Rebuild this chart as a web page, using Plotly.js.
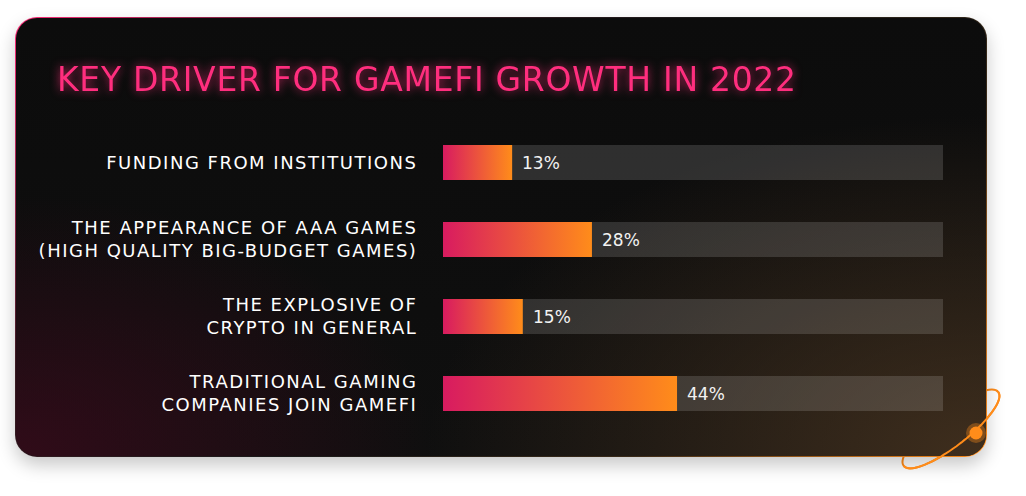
<!DOCTYPE html>
<html>
<head>
<meta charset="utf-8">
<script src="https://cdn.plot.ly/plotly-3.0.1.min.js"></script>
<style>
  html, body { margin: 0; padding: 0; background: #ffffff; }
  #wrap { position: relative; width: 1026px; height: 496px; overflow: hidden; }
  #card {
    position: absolute; left: 15px; top: 17px; width: 970px; height: 438px;
    border-radius: 22px;
    border: 1.5px solid transparent;
    background:
      radial-gradient(ellipse 420px 260px at 0% 100%, rgba(60,10,28,0.75), rgba(60,10,28,0) 100%) padding-box,
      radial-gradient(ellipse 560px 340px at 100% 100%, rgba(72,52,32,0.85), rgba(72,52,32,0) 100%) padding-box,
      linear-gradient(#0c0c0c, #0f0f0f) padding-box,
      linear-gradient(135deg, #ff2d7a 0%, #3a1a22 25%, #1a1a1a 50%, #3a2a18 75%, #ff8c1a 100%) border-box;
    box-shadow: 0 8px 18px rgba(0,0,0,0.22);
  }
  #back, #front { position: absolute; left: 0; top: 0; }
  #chart { position: absolute; left: 0; top: 0; width: 1026px; height: 496px; }
  #chart .gtitle { filter: drop-shadow(0 0 5px rgba(255,45,122,0.75)); letter-spacing: 0.7px; }
  #chart .ytick text { letter-spacing: 1.5px; }
</style>
</head>
<body>
<div id="wrap">
  <svg id="back" width="1026" height="496">
    <ellipse cx="951" cy="429" rx="60" ry="17" transform="rotate(-38 951 429)" fill="none" stroke="#ff8c1a" stroke-width="2"/>
  </svg>
  <div id="card"></div>
  <div id="chart"></div>
  <svg id="front" width="1026" height="496">
    <path id="frontArc" d="" fill="none" stroke="#ff8c1a" stroke-width="2"/>
    <circle cx="976" cy="433" r="10" fill="rgba(255,140,26,0.35)"/>
    <circle cx="976" cy="433" r="6.5" fill="#ff8c1a"/>
  </svg>
</div>
<script>
// ---- data ----
const categories = [
  "FUNDING FROM INSTITUTIONS",
  "THE APPEARANCE OF AAA GAMES<br>(HIGH QUALITY BIG-BUDGET GAMES)",
  "THE EXPLOSIVE OF<br>CRYPTO IN GENERAL",
  "TRADITIONAL GAMING<br>COMPANIES JOIN GAMEFI"
];
const values = [13, 28, 15, 44];
const valueLabels = ["13%", "28%", "15%", "44%"];
const trackMax = 94;
const chartTitle = "KEY DRIVER FOR GAMEFI GROWTH IN 2022";

// ---- build ----
const FONT = '"DejaVu Sans", sans-serif';
const idx = categories.map((_, i) => i);
const barW = 0.455;
const traces = [];
traces.push({
  type: 'bar', orientation: 'h',
  y: idx, x: categories.map(() => trackMax),
  width: barW,
  marker: { color: 'rgba(255,255,255,0.14)', line: { width: 0 } },
  hoverinfo: 'skip', showlegend: false
});
values.forEach((v, i) => {
  traces.push({
    type: 'scatter', mode: 'lines',
    x: [0, v, v, 0, 0],
    y: [i - barW / 2, i - barW / 2, i + barW / 2, i + barW / 2, i - barW / 2],
    fill: 'toself',
    line: { width: 0, color: 'rgba(0,0,0,0)' },
    fillcolor: '#ee5a3a',
    fillgradient: { type: 'horizontal', colorscale: [[0, '#d81b60'], [1, '#ff8c1a']] },
    hoverinfo: 'skip', showlegend: false
  });
});

const annotations = values.map((v, i) => ({
  x: v, y: i, xref: 'x', yref: 'y',
  text: valueLabels[i], showarrow: false,
  xanchor: 'left', yanchor: 'middle', xshift: 8,
  font: { family: FONT, size: 17, color: '#f2f2f2' }
}));

const layout = {
  width: 1026, height: 496,
  margin: { l: 443, r: 83, t: 124, b: 64, pad: 0 },
  paper_bgcolor: 'rgba(0,0,0,0)',
  plot_bgcolor: 'rgba(0,0,0,0)',
  title: {
    text: chartTitle,
    x: 57 / 1026, xanchor: 'left', xref: 'container',
    y: 1 - 79 / 496, yanchor: 'middle', yref: 'container',
    font: { family: FONT, size: 33, color: '#ff2e7e' }
  },
  barmode: 'overlay',
  xaxis: { range: [0, trackMax], visible: false, fixedrange: true },
  yaxis: {
    range: [3.5, -0.5],
    tickmode: 'array', tickvals: idx, ticktext: categories,
    ticks: 'outside', ticklen: 21, tickcolor: 'rgba(0,0,0,0)',
    showgrid: false, zeroline: false, showline: false,
    tickfont: { family: FONT, size: 18, color: '#ffffff' },
    fixedrange: true
  },
  annotations: annotations,
  showlegend: false
};

Plotly.newPlot('chart', traces, layout, { displayModeBar: false, staticPlot: true });

// front arc of the decorative orbit (lower-right half of the ellipse)
(function () {
  const cx = 951, cy = 429, a = 60, b = 17, ang = -38 * Math.PI / 180;
  const ux = Math.cos(ang), uy = Math.sin(ang), vx = -uy, vy = ux;
  let d = '';
  for (let k = 0; k <= 60; k++) {
    const t = Math.PI * k / 60;
    const px = cx + a * Math.cos(t) * ux + b * Math.sin(t) * vx;
    const py = cy + a * Math.cos(t) * uy + b * Math.sin(t) * vy;
    d += (k === 0 ? 'M' : 'L') + px.toFixed(1) + ' ' + py.toFixed(1) + ' ';
  }
  document.getElementById('frontArc').setAttribute('d', d);
})();
</script>
</body>
</html>
